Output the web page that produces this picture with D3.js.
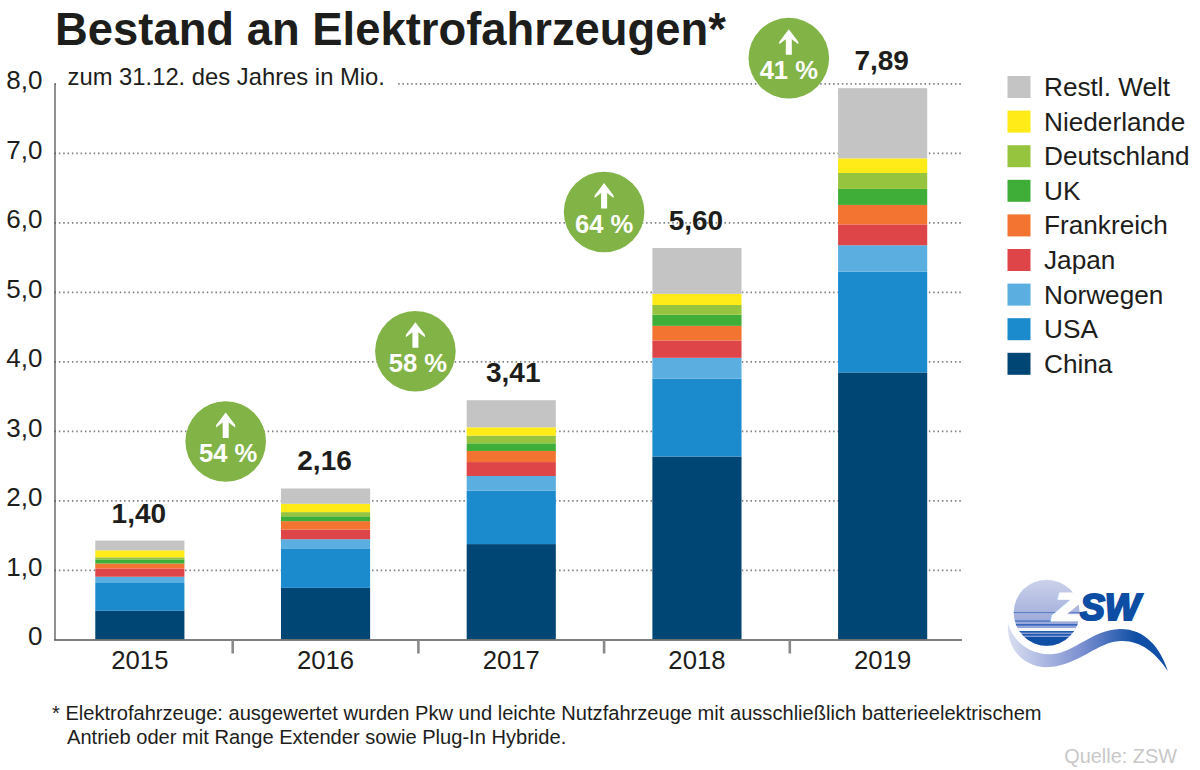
<!DOCTYPE html>
<html>
<head>
    <meta charset="utf-8">
    <title>Bestand an Elektrofahrzeugen</title>
    <script src="https://d3js.org/d3.v7.min.js"></script>
    <style>
        html, body { margin: 0; padding: 0; background: #fff; }
        svg { display: block; }
        text { font-family: "Liberation Sans", Arial, sans-serif; fill: #1d1d1b; }
    </style>
</head>
<body>
<script>
    // values in Mio.
    var years = ["2015", "2016", "2017", "2018", "2019"];
    var china       = [0.41, 0.74, 1.37, 2.63, 3.84];
    var usa         = [0.40, 0.56, 0.77, 1.12, 1.45];
    var norwegen    = [0.09, 0.14, 0.21, 0.30, 0.38];
    var japan       = [0.12, 0.14, 0.20, 0.25, 0.30];
    var frankreich  = [0.07, 0.12, 0.16, 0.21, 0.28];
    var uk          = [0.06, 0.07, 0.11, 0.16, 0.23];
    var deutschland = [0.03, 0.06, 0.11, 0.14, 0.23];
    var niederlande = [0.10, 0.12, 0.12, 0.16, 0.21];
    var restWelt    = [0.14, 0.22, 0.39, 0.66, 1.01];
    var totalLabels = ["1,40", "2,16", "3,41", "5,60", "7,89"];
    var growthLabels = ["54 %", "58 %", "64 %", "41 %"];
    var yTicks = [0, 1, 2, 3, 4, 5, 6, 7, 8];

    var seriesNames = ["China", "USA", "Norwegen", "Japan", "Frankreich", "UK", "Deutschland", "Niederlande", "Restl. Welt"];
    var seriesValues = [china, usa, norwegen, japan, frankreich, uk, deutschland, niederlande, restWelt];
    var seriesColors = ["#004674", "#1b8bcd", "#5aaee0", "#dd4548", "#f37331", "#3fae38", "#97c43e", "#feeb17", "#c4c4c4"];

    var w = 1200;
    var h = 770;
    var svg = d3.select("body").append("svg").attr("width", w).attr("height", h);

    var xScale = d3.scaleBand().domain(years).range([47, 975.5]).paddingInner(0.52).paddingOuter(0.26);
    var yScale = d3.scaleLinear().domain([0, 8]).range([639.3, 83.3]);

    // build rows for d3.stack
    var rows = years.map(function(y, i) {
        var row = {year: y};
        seriesNames.forEach(function(n, j) { row[n] = seriesValues[j][i]; });
        return row;
    });
    var stacked = d3.stack().keys(seriesNames)(rows);

    //title
    svg.append("text").attr("x", 55).attr("y", 45)
        .attr("font-size", 45.4).attr("font-weight", "bold")
        .text("Bestand an Elektrofahrzeugen*");

    //grid
    var grid = svg.append("g").attr("transform", "translate(54.5,0)")
        .call(d3.axisLeft(yScale).tickValues(yTicks.slice(1)).tickSize(-908).tickFormat(""));
    grid.select(".domain").remove();
    grid.selectAll("line").attr("stroke", "#808080").attr("stroke-width", 1.8).attr("stroke-dasharray", "1.5 2.85");

    //subtitle sits on a white patch that hides the top grid line
    svg.append("rect").attr("x", 56).attr("y", 66).attr("width", 341).attr("height", 28).attr("fill", "#fff");
    svg.append("text").attr("x", 67.5).attr("y", 85).attr("font-size", 23.8).text("zum 31.12. des Jahres in Mio.");

    //bars
    svg.selectAll("g.series").data(stacked).enter().append("g")
        .attr("class", "series")
        .attr("fill", function(d, i) { return seriesColors[i]; })
        .selectAll("rect").data(function(d) { return d; }).enter().append("rect")
        .attr("x", function(d) { return xScale(d.data.year); })
        .attr("y", function(d) { return yScale(d[1]); })
        .attr("width", xScale.bandwidth())
        .attr("height", function(d) { return yScale(d[0]) - yScale(d[1]); });

    //total labels
    var labelNudge = [0, 0, 3, 0, 0];
    svg.selectAll("text.total").data(years).enter().append("text")
        .attr("class", "total")
        .attr("x", function(d, i) { return xScale(d) + xScale.bandwidth() / 2 - 1 + labelNudge[i]; })
        .attr("y", function(d, i) {
            return yScale(d3.sum(seriesValues, function(s) { return s[i]; })) - 18;
        })
        .attr("text-anchor", "middle").attr("font-size", 28).attr("font-weight", "bold")
        .text(function(d, i) { return totalLabels[i]; });

    //axes
    var yAxis = svg.append("g").attr("transform", "translate(54.5,0)")
        .call(d3.axisLeft(yScale).tickValues(yTicks).tickSize(0).tickPadding(12)
            .tickFormat(function(d) { return d === 0 ? "0" : d3.format(".1f")(d).replace(".", ","); }));
    yAxis.select(".domain").attr("stroke", "#555").attr("stroke-width", 1.3);
    yAxis.selectAll("text").attr("font-size", 26).attr("dy", "0.21em")
        .attr("font-family", "Liberation Sans").attr("fill", "#1d1d1b");

    var xAxis = svg.append("g").attr("transform", "translate(0,640)")
        .call(d3.axisBottom(xScale).tickSize(0).tickPadding(11));
    xAxis.select(".domain").attr("d", "M54,0H962").attr("stroke", "#555").attr("stroke-width", 1.6);
    xAxis.selectAll("text").attr("font-size", 25.7).attr("font-family", "Liberation Sans").attr("fill", "#1d1d1b");

    //separators between the years
    svg.selectAll("line.sep").data(years.slice(1)).enter().append("line")
        .attr("class", "sep")
        .attr("x1", function(d) { return xScale(d) - xScale.step() * 0.26; })
        .attr("x2", function(d) { return xScale(d) - xScale.step() * 0.26; })
        .attr("y1", 640).attr("y2", 653.5)
        .attr("stroke", "#8a8a8a").attr("stroke-width", 2.6);

    //growth badges, placed between two bars and above the later one
    var badgeLift = [47, 49, 36, 30];
    var badgeShift = [-7, -3, 0, -1];
    var badgeTextShift = [2.5, 2.5, 0, 0];
    var badge = svg.selectAll("g.badge").data(growthLabels).enter().append("g")
        .attr("class", "badge")
        .attr("transform", function(d, i) {
            var later = years[i + 1];
            var top = yScale(d3.sum(seriesValues, function(s) { return s[i + 1]; }));
            return "translate(" + (xScale(later) - xScale.step() * 0.26 + badgeShift[i]) + "," + (top - badgeLift[i]) + ")";
        });
    badge.append("circle").attr("r", 40.3).attr("fill", "#82b346");
    badge.append("path").attr("fill", "#fff")
        .attr("d", "M0,-29 L9.5,-16.5 L9.5,-14 L3,-19 L3,-3.5 L-3,-3.5 L-3,-19 L-9.5,-14 L-9.5,-16.5 Z");
    badge.append("text").attr("x", function(d, i) { return badgeTextShift[i]; }).attr("y", 21).attr("text-anchor", "middle")
        .attr("font-size", 25.6).attr("font-weight", "bold")
        .style("fill", "#fff").text(function(d) { return d; });

    //legend, top entry is the top of the stack
    var legend = svg.selectAll("g.legend").data(d3.range(seriesNames.length).reverse()).enter().append("g")
        .attr("class", "legend")
        .attr("transform", function(d, i) { return "translate(1007.5," + (76 + i * 34.6) + ")"; });
    legend.append("rect").attr("width", 23).attr("height", 22)
        .attr("fill", function(d) { return seriesColors[d]; });
    legend.append("text").attr("x", 36.5).attr("y", 20).attr("font-size", 26.2)
        .text(function(d) { return seriesNames[d]; });

    //footnote
    svg.append("text").attr("x", 52).attr("y", 720).attr("font-size", 20.1)
        .text("* Elektrofahrzeuge: ausgewertet wurden Pkw und leichte Nutzfahrzeuge mit ausschließlich batterieelektrischem");
    svg.append("text").attr("x", 67).attr("y", 744).attr("font-size", 20.1)
        .text("Antrieb oder mit Range Extender sowie Plug-In Hybride.");
    svg.append("text").attr("x", 1177).attr("y", 762.5).attr("text-anchor", "end").attr("font-size", 19.9)
        .style("fill", "#c8c8c8").text("Quelle: ZSW");

    //ZSW logo
    var defs = svg.append("defs");
    var sun = defs.append("linearGradient").attr("id", "sunFill").attr("x1", 0).attr("y1", 0).attr("x2", 0).attr("y2", 1);
    sun.append("stop").attr("offset", "0%").attr("stop-color", "#ccd2ea");
    sun.append("stop").attr("offset", "50%").attr("stop-color", "#a9b4de");
    sun.append("stop").attr("offset", "100%").attr("stop-color", "#7c8fd0");
    var waveFill = defs.append("linearGradient").attr("id", "waveFill").attr("x1", 0).attr("y1", 0).attr("x2", 1).attr("y2", 0);
    waveFill.append("stop").attr("offset", "0%").attr("stop-color", "#d9def1");
    waveFill.append("stop").attr("offset", "45%").attr("stop-color", "#7f92d2");
    waveFill.append("stop").attr("offset", "80%").attr("stop-color", "#0f4fa5");
    defs.append("clipPath").attr("id", "sunClip").append("circle").attr("cx", 1046.7).attr("cy", 612.7).attr("r", 33);

    var logo = svg.append("g");
    logo.append("circle").attr("cx", 1046.7).attr("cy", 612.7).attr("r", 33).attr("fill", "url(#sunFill)");
    var stripes = logo.append("g").attr("clip-path", "url(#sunClip)");
    stripes.append("rect").attr("x", 1010).attr("y", 612.2).attr("width", 75).attr("height", 0.9).attr("fill", "#4d74c2");
    stripes.append("rect").attr("x", 1010).attr("y", 620.5).attr("width", 75).attr("height", 1.2).attr("fill", "#3f6fc0");
    stripes.append("rect").attr("x", 1010).attr("y", 624).attr("width", 75).attr("height", 1.6).attr("fill", "#3568bb");
    stripes.append("rect").attr("x", 1010).attr("y", 628).attr("width", 75).attr("height", 3).attr("fill", "#f4f6fc");
    stripes.append("rect").attr("x", 1010).attr("y", 631).attr("width", 75).attr("height", 1.6).attr("fill", "#1f5cb0");
    stripes.append("rect").attr("x", 1010).attr("y", 634).attr("width", 75).attr("height", 1.6).attr("fill", "#1a58ad");
    stripes.append("rect").attr("x", 1010).attr("y", 637).attr("width", 75).attr("height", 10).attr("fill", "#0f4fa5");
    logo.append("path").attr("fill", "url(#waveFill)")
        .attr("d", "M1008,623 C1012,640 1030,656 1053,654 C1075,652 1092,630 1120,629 C1146,629 1160,648 1168,671 C1155,652 1140,640 1120,641 C1098,642 1078,665 1050,667 C1028,669 1006,652 1008,623 Z");
    logo.append("text").attr("x", 1054).attr("y", 620).attr("font-size", 37).attr("font-weight", "bold").attr("font-style", "italic")
        .attr("stroke", "#fff").attr("stroke-width", 3.2).style("fill", "#fff")
        .attr("textLength", 29).attr("lengthAdjust", "spacingAndGlyphs").text("Z");
    logo.append("text").attr("x", 1080).attr("y", 620).attr("font-size", 37).attr("font-weight", "bold").attr("font-style", "italic")
        .attr("stroke", "#0d4da3").attr("stroke-width", 2.2).style("fill", "#0d4da3")
        .attr("textLength", 60).attr("lengthAdjust", "spacingAndGlyphs").text("SW");
</script>
</body>
</html>
